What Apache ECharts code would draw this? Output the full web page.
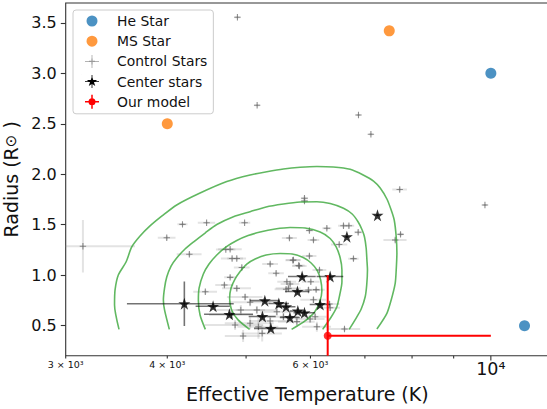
<!DOCTYPE html>
<html><head><meta charset="utf-8">
<script src="https://cdn.jsdelivr.net/npm/echarts@6.0.0/dist/echarts.min.js"></script>
<style>html,body{margin:0;padding:0;background:#fff}#c{width:547px;height:409px}</style>
</head><body><div id="c"></div>
<script>
// ---------------- data ----------------
const heT = [10000, 11000];
const heR = [3.0, 0.5];
const msT = [7500, 4000];
const msR = [3.42, 2.5];

const ctrlT = [3150,4879,5159,6874,7120,7725,9834,5899,5899,4176,4471,4979,3994,4258,4721,4779,4806,4870,4940,4779,4702,4455,4870,4986,5057,4926,5155,4847,5057,5178,5353,5455,5558,5637,5612,5353,5444,5717,5802,5653,6051,6285,5982,5966,6051,5994,5773,6110,5708,5815,6155,6006,6097,5664,5600,6332,6344,6607,6080,5982,6588,6690,6868,7743,7627,6509,6777,4802,5233,4958];
const ctrlR = [1.287,3.555,2.683,2.587,2.396,1.849,1.696,1.762,1.735,1.504,1.520,1.520,1.371,1.208,1.255,1.257,1.166,1.166,1.076,0.979,0.903,0.837,0.870,0.784,0.732,0.656,0.656,0.507,0.524,0.490,0.547,0.639,0.589,0.870,0.936,1.111,1.019,1.151,1.096,1.369,1.349,1.465,1.190,0.854,0.757,0.566,0.540,0.490,1.148,1.091,1.052,0.936,0.857,0.913,0.861,0.715,0.678,0.467,0.589,1.443,1.490,1.490,1.425,1.405,1.349,1.304,1.164,0.606,0.424,0.398];
const ctrlXerr = [500,40,40,40,40,160,60,60,60,60,110,80,100,150,130,160,150,130,110,80,120,150,200,250,300,350,300,400,350,300,300,250,250,200,150,120,120,120,100,120,100,80,120,200,220,250,300,250,120,120,120,150,150,150,180,180,180,300,200,60,100,100,80,60,250,150,100,300,300,250];
const ctrlYerr = [0.26,0.01,0.01,0.01,0.01,0.02,0.01,0.02,0.02,0.01,0.01,0.01,0.02,0.02,0.01,0.02,0.02,0.02,0.02,0.02,0.02,0.02,0.03,0.03,0.04,0.05,0.04,0.05,0.06,0.12,0.05,0.04,0.04,0.03,0.02,0.02,0.02,0.02,0.02,0.02,0.02,0.02,0.02,0.03,0.03,0.04,0.05,0.05,0.02,0.02,0.02,0.02,0.02,0.02,0.02,0.03,0.03,0.02,0.03,0.02,0.02,0.02,0.02,0.02,0.02,0.02,0.02,0.04,0.08,0.06];

const cenT = [4198,4554,4769,5273,5237,5363,5486,5600,5789,5899,5661,5783,5860,6167,6344,6652,7254];
const cenR = [0.718,0.692,0.613,0.748,0.591,0.474,0.720,0.688,0.646,0.628,0.581,0.839,0.987,0.710,0.987,1.382,1.594];
const cenXerr = [630,220,330,220,200,250,160,150,130,180,160,200,230,180,240,30,30];
const cenYerr = [0.22,0.02,0.02,0.02,0.02,0.02,0.02,0.02,0.02,0.02,0.02,0.02,0.02,0.02,0.02,0.01,0.01];

const modelT = [6300];
const modelR = [0.4];
const modelXlo = [0];
const modelXhi = [3700];
const modelYlo = [0.4];
const modelYhi = [0.6];

const c1T = [3489,3445,3450,3482,3559,3617,3703,3809,3941,4108,4389,4734,5057,5303,5558,5827,6110,6399,6714,6966,7173,7310,7450,7541,7606,7649,7664,7649,7627,7541,7450,7242];
const c1R = [0.464,0.705,0.854,1.002,1.131,1.280,1.388,1.488,1.587,1.696,1.814,1.928,1.993,2.025,2.052,2.069,2.077,2.072,2.049,1.993,1.933,1.864,1.755,1.646,1.547,1.381,1.220,1.052,0.920,0.755,0.623,0.467];
const c2T = [4023,3969,3956,3969,3994,4043,4108,4206,4307,4452,4602,4824,5057,5292,5558,5827,6110,6344,6588,6752,6868,6946,6992,7025,7040,7051,7036,7006,6927,6829,6695];
const c2R = [0.464,0.656,0.755,0.873,0.982,1.091,1.171,1.260,1.329,1.418,1.502,1.580,1.629,1.676,1.705,1.725,1.728,1.710,1.663,1.606,1.527,1.448,1.379,1.270,1.151,1.052,0.903,0.787,0.665,0.576,0.464];
const c3T = [4455,4389,4368,4377,4430,4502,4602,4725,4870,5029,5203,5429,5664,5910,6167,6344,6453,6527,6559,6559,6518,6466,6363,6211];
const c3R = [0.464,0.606,0.755,0.873,1.012,1.111,1.200,1.280,1.344,1.393,1.428,1.458,1.473,1.468,1.428,1.364,1.280,1.171,1.052,0.933,0.804,0.688,0.586,0.464];
const c4T = [5050,4888,4799,4772,4792,4847,4916,5010,5130,5292,5506,5696,5877,6011,6115,6176,6197,6158,6071,5927,5778,5688];
const c4R = [0.464,0.558,0.656,0.774,0.873,0.963,1.037,1.111,1.161,1.200,1.215,1.210,1.175,1.121,1.047,0.953,0.844,0.735,0.636,0.556,0.497,0.464];

const xTickVals = [3000,4000,5000,6000,7000,8000,9000,10000];
const xTickLabels = ['3 × 10³','4 × 10³','','6 × 10³','','','','10⁴'];
const xTickMajor = [0,0,0,0,0,0,0,1];
const yTicks = [0.5,1.0,1.5,2.0,2.5,3.0,3.5];

const X_MIN = 3000, X_MAX = 11790, Y_MIN = 0.203, Y_MAX = 3.696;

// ---------------- helpers ----------------
const FONT = 'DejaVu Sans';
function zip() { const a = Array.from(arguments); return a[0].map((_, i) => a.map(arr => arr[i])); }
function errSeries(name, data, barColor, barWidth, z, plusColor) {
  return {
    type: 'custom', name: name, z: z, clip: true, silent: true, data: data,
    encode: { x: 0, y: 1 }, itemStyle: { color: barColor },
    renderItem: function (params, api) {
      const T = api.value(0), R = api.value(1);
      const xl = api.value(2), xh = api.value(3), yl = api.value(4), yh = api.value(5);
      const c = api.coord([T, R]);
      const a = api.coord([T - xl, R]), b = api.coord([T + xh, R]);
      const u = api.coord([T, R + yh]), d = api.coord([T, R - yl]);
      const ch = [
        { type: 'line', shape: { x1: a[0], y1: c[1], x2: b[0], y2: c[1] }, style: { stroke: barColor, lineWidth: barWidth } },
        { type: 'line', shape: { x1: c[0], y1: u[1], x2: c[0], y2: d[1] }, style: { stroke: barColor, lineWidth: barWidth } }
      ];
      if (plusColor) {
        ch.push({ type: 'line', shape: { x1: c[0] - 3.2, y1: c[1], x2: c[0] + 3.2, y2: c[1] }, style: { stroke: plusColor, lineWidth: 1.1 } });
        ch.push({ type: 'line', shape: { x1: c[0], y1: c[1] - 3.2, x2: c[0], y2: c[1] + 3.2 }, style: { stroke: plusColor, lineWidth: 1.1 } });
      }
      return { type: 'group', children: ch };
    }
  };
}
function contour(T, R) {
  return {
    type: 'line', name: 'kde', z: 3, silent: true, showSymbol: false, smooth: 0.25,
    data: zip(T, R), lineStyle: { color: 'rgba(44,160,44,0.75)', width: 1.6 }, animation: false
  };
}

const ctrlData = zip(ctrlT, ctrlR, ctrlXerr, ctrlXerr, ctrlYerr, ctrlYerr);
const cenData = zip(cenT, cenR, cenXerr, cenXerr, cenYerr, cenYerr);
const modelData = zip(modelT, modelR, modelXlo, modelXhi, modelYlo, modelYhi);
const xTickData = xTickVals.map((v, i) => [v, Y_MIN, xTickMajor[i], i]);

const STAR = 'path://M0,-100L22.4,-30.8L95.1,-30.9L36.2,11.8L58.8,80.9L0,38.1L-58.8,80.9L-36.2,11.8L-95.1,-30.9L-22.4,-30.8Z';
const CORNERS = 'M0,0h0.05v0.05h-0.05z M30.95,13.95h0.05v0.05h-0.05z ';
const ICON_CIRCLE = 'path://' + CORNERS + 'M5.5,7a5.5,5.5 0 1 1 11,0a5.5,5.5 0 1 1 -11,0z';
const ICON_CTRL = 'path://' + CORNERS + 'M4,6.65h14v0.7h-14z M10.65,0.5h0.7v13h-0.7z M8,6.4h6v1.2h-6z M10.4,4h1.2v6h-1.2z';
const ICON_CEN = 'path://' + CORNERS + 'M4,6.6h14v0.8h-14z M10.6,0.5h0.8v13h-0.8z M11,1.5L12.23,5.31L16.23,5.3L12.99,7.65L14.23,11.45L11,9.1L7.77,11.45L9.01,7.65L5.77,5.3L9.77,5.31Z';
const ICON_MODEL = 'path://' + CORNERS + 'M4,6.25h14v1.5h-14z M10.25,0h1.5v14h-1.5z M7.5,7a3.5,3.5 0 1 1 7,0a3.5,3.5 0 1 1 -7,0z';

// ---------------- chart ----------------
const chart = echarts.init(document.getElementById('c'), null, { renderer: 'svg', width: 547, height: 409 });
chart.setOption({
  animation: false,
  backgroundColor: '#ffffff',
  textStyle: { fontFamily: FONT },
  grid: { left: 65.7, right: -2, top: 3, bottom: 53.3, containLabel: false, outerBoundsMode: 'none',
          show: true, borderColor: '#333', borderWidth: 1.1, backgroundColor: 'transparent' },
  xAxis: {
    type: 'log', logBase: 10, min: X_MIN, max: X_MAX,
    axisLine: { show: false }, axisTick: { show: false }, axisLabel: { show: false }, splitLine: { show: false },
    name: 'Effective Temperature (K)', nameLocation: 'middle', nameGap: 29,
    nameTextStyle: { fontSize: 19, color: '#111', fontFamily: FONT }
  },
  yAxis: {
    type: 'value', min: Y_MIN, max: Y_MAX,
    axisLine: { show: false }, splitLine: { show: false },
    axisTick: { show: true, customValues: yTicks, length: 4.9, lineStyle: { color: '#333', width: 1.1 } },
    axisLabel: { customValues: yTicks, formatter: v => Number(v).toFixed(1), fontSize: 16, color: '#111', margin: 9, fontFamily: FONT },
    name: '{a|Radius (R}{b|\u2299}{a| )}', nameLocation: 'middle', nameGap: 39,
    nameTextStyle: { fontSize: 19, color: '#111', fontFamily: FONT,
      rich: { a: { fontSize: 19, color: '#111', fontFamily: FONT }, b: { fontSize: 15, color: '#111', fontFamily: FONT } } }
  },
  legend: {
    orient: 'vertical', left: 73, top: 10, itemWidth: 31, itemHeight: 14, itemGap: 6.2,
    padding: [4, 6, 5, 8], backgroundColor: 'rgba(255,255,255,0.85)', borderColor: '#cccccc', borderWidth: 1, borderRadius: 3,
    selectedMode: false, z: 20,
    textStyle: { fontSize: 13.9, color: '#111', fontFamily: FONT },
    data: [
      { name: 'He Star', icon: ICON_CIRCLE, itemStyle: { color: '#1f77b4' } },
      { name: 'MS Star', icon: ICON_CIRCLE, itemStyle: { color: '#ff7f0e' } },
      { name: 'Control Stars', icon: ICON_CTRL, itemStyle: { color: '#9a9a9a' } },
      { name: 'Center stars', icon: ICON_CEN, itemStyle: { color: '#000000' } },
      { name: 'Our model', icon: ICON_MODEL, itemStyle: { color: '#ff0000' } }
    ]
  },
  series: [
    errSeries('Control Stars', ctrlData, 'rgba(128,128,128,0.22)', 2, 2, 'rgba(105,105,105,0.75)'),
    contour(c1T, c1R), contour(c2T, c2R), contour(c3T, c3R), contour(c4T, c4R),
    errSeries('Center stars', cenData, 'rgba(0,0,0,0.55)', 1.6, 4, null),
    { type: 'scatter', name: 'Center stars', z: 5, silent: true, data: zip(cenT, cenR), symbol: STAR, symbolSize: 12, itemStyle: { color: '#000' } },
    errSeries('Our model', modelData, '#ff0000', 2, 6, null),
    { type: 'scatter', name: 'Our model', z: 6, silent: true, data: zip(modelT, modelR), symbol: 'circle', symbolSize: 8, itemStyle: { color: '#ff0000' } },
    { type: 'scatter', name: 'He Star', z: 7, silent: true, data: zip(heT, heR), symbol: 'circle', symbolSize: 11, itemStyle: { color: '#1f77b4' } },
    { type: 'scatter', name: 'MS Star', z: 7, silent: true, data: zip(msT, msR), symbol: 'circle', symbolSize: 11, itemStyle: { color: '#ff7f0e' } },
    {
      type: 'custom', name: 'xticks', z: 10, clip: false, silent: true, data: xTickData, encode: { x: 0, y: 1 },
      renderItem: function (params, api) {
        const p = api.coord([api.value(0), api.value(1)]);
        const major = api.value(2) === 1;
        const label = xTickLabels[api.value(3)];
        const ch = [{ type: 'line', shape: { x1: p[0], y1: p[1], x2: p[0], y2: p[1] + (major ? 4.9 : 2.8) }, style: { stroke: '#333', lineWidth: 1.1 } }];
        if (label) {
          ch.push({ type: 'text', style: { text: label, x: p[0], y: p[1] + (major ? 4.5 : 4.2), align: 'center', verticalAlign: 'top',
            fill: '#111', fontSize: major ? 17.5 : 9.5, fontFamily: FONT } });
        }
        return { type: 'group', children: ch };
      }
    }
  ]
});
</script>
</body></html>
